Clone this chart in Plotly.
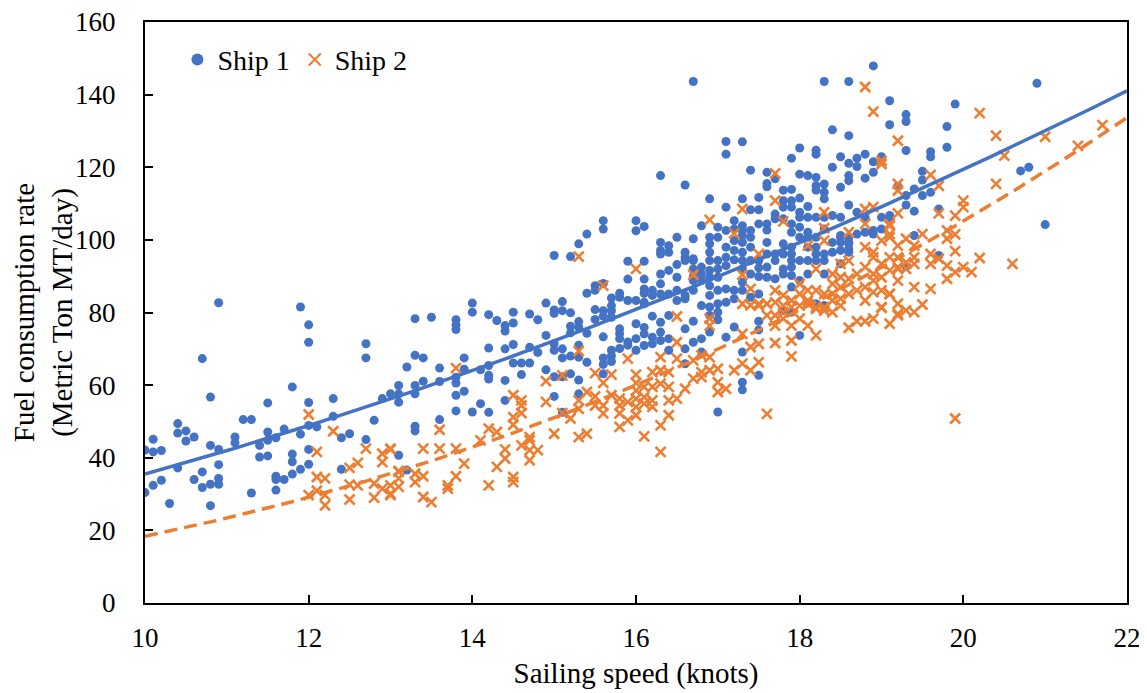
import numpy as np
import plotly.graph_objects as go

# ---------------- data ----------------
ship1_points = [
    (10.0, 42.1), (10.1, 45.1), (10.1, 41.6), (10.2, 42.0), (10.0, 30.4), (10.1, 32.4), (10.2, 33.8), (10.3, 27.4),
    (10.4, 49.4), (10.4, 46.8), (10.4, 37.2), (10.5, 47.4), (10.5, 44.6), (10.6, 45.7), (10.6, 34.0), (10.7, 67.3),
    (10.7, 36.1), (10.7, 31.8), (10.8, 56.7), (10.8, 43.4), (10.8, 32.7), (10.8, 26.8), (10.9, 82.7), (10.9, 42.3),
    (10.9, 38.1), (10.9, 34.3), (10.9, 32.7), (11.1, 45.7), (11.1, 44.1), (11.2, 50.5), (11.3, 50.5), (11.3, 30.3),
    (11.4, 43.4), (11.4, 40.2), (11.5, 55.1), (11.5, 47.1), (11.5, 44.8), (11.5, 40.5), (11.6, 45.5), (11.6, 34.9),
    (11.6, 34.0), (11.6, 31.1), (11.7, 34.0), (11.7, 47.9), (11.8, 59.5), (11.8, 41.0), (11.8, 38.9), (11.8, 35.5),
    (11.9, 81.5), (11.9, 46.5), (11.9, 36.8), (12.0, 76.6), (12.0, 71.8), (12.0, 55.2), (12.0, 48.9), (12.0, 42.3),
    (12.0, 38.2), (12.1, 48.5), (12.3, 56.3), (12.3, 51.4), (12.4, 45.5), (12.4, 36.8), (12.5, 46.6), (12.7, 71.4),
    (12.7, 67.5), (12.7, 45.0), (12.8, 50.3), (12.9, 56.3),
    (13.0, 57.6), (13.1, 59.9), (13.1, 57.6), (13.1, 55.3), (13.1, 40.7), (13.2, 65.0), (13.2, 36.6), (13.3, 78.3),
    (13.3, 68.2), (13.3, 59.9), (13.3, 57.6), (13.3, 48.7), (13.3, 47.4), (13.4, 67.5), (13.4, 61.1), (13.5, 78.7),
    (13.6, 64.7), (13.6, 61.0), (13.6, 50.5), (13.8, 78.0), (13.8, 76.6), (13.8, 75.3), (13.8, 62.2), (13.8, 60.6),
    (13.8, 57.2), (13.8, 52.9), (13.9, 67.5), (13.9, 64.4), (13.9, 58.3), (14.0, 82.6), (14.0, 80.1), (14.0, 52.6),
    (14.1, 64.2), (14.1, 54.9), (14.2, 79.4), (14.2, 70.2), (14.2, 65.4), (14.2, 62.7), (14.2, 61.7), (14.2, 52.5),
    (14.3, 77.8), (14.4, 76.4), (14.4, 74.9), (14.4, 70.0), (14.4, 61.3), (14.4, 55.8), (14.5, 80.1), (14.5, 77.1),
    (14.5, 71.2), (14.5, 66.1), (14.6, 66.1), (14.6, 62.9), (14.7, 79.6), (14.7, 70.4), (14.7, 66.1), (14.8, 78.0),
    (14.8, 69.0), (14.9, 82.6), (14.9, 73.7), (14.9, 64.2), (15.0, 95.7), (15.0, 80.7), (15.0, 79.8), (15.0, 71.4),
    (15.0, 69.6), (15.0, 62.3), (15.0, 56.9), (15.1, 83.0), (15.1, 80.5), (15.1, 70.0), (15.1, 67.5), (15.1, 62.3),
    (15.1, 52.5), (15.2, 95.4), (15.2, 79.9), (15.2, 76.2), (15.2, 74.4), (15.2, 68.0), (15.2, 63.1), (15.3, 98.9),
    (15.3, 77.5), (15.3, 75.9), (15.3, 71.0), (15.3, 67.7), (15.3, 61.4), (15.3, 57.6), (15.4, 101.6), (15.4, 85.3),
    (15.4, 74.3), (15.4, 66.3), (15.5, 87.4), (15.5, 86.1), (15.5, 80.8), (15.5, 78.1), (15.6, 105.3), (15.6, 103.0),
    (15.6, 88.0), (15.6, 80.5), (15.6, 79.0), (15.6, 73.3), (15.6, 67.5), (15.6, 65.7), (15.6, 63.1), (15.7, 84.0),
    (15.7, 81.9), (15.7, 80.5), (15.7, 78.7), (15.7, 69.6), (15.7, 68.1), (15.7, 66.5), (15.8, 85.3), (15.8, 84.2),
    (15.8, 75.5), (15.8, 74.2), (15.8, 72.8), (15.8, 70.1), (15.9, 94.1), (15.9, 89.2), (15.9, 83.3), (15.9, 71.9),
    (15.9, 71.0), (16.0, 105.3), (16.0, 102.5), (16.0, 83.3), (16.0, 76.9), (16.0, 72.8), (16.0, 69.6), (16.1, 94.1),
    (16.1, 89.2), (16.1, 86.5), (16.1, 85.3), (16.1, 82.8), (16.1, 75.9), (16.1, 74.1), (16.1, 70.9),
    (16.7, 143.6), (18.3, 143.6), (18.6, 143.6), (18.9, 147.9), (19.1, 138.3), (19.1, 131.7), (18.4, 130.3),
    (18.6, 128.7), (17.1, 127.1), (17.1, 123.6), (17.3, 127.0), (18.0, 125.3), (18.2, 124.7), (18.2, 123.6),
    (17.9, 122.5), (18.5, 122.9), (18.6, 121.1), (18.7, 122.5), (18.8, 123.6), (18.9, 121.5), (19.0, 122.9),
    (18.4, 120.0), (18.7, 120.2), (16.3, 117.7), (16.6, 115.1), (17.4, 119.2), (17.6, 118.6), (17.6, 115.5),
    (17.6, 114.6), (17.7, 116.8), (18.0, 118.1), (18.1, 117.7), (18.2, 117.2), (18.2, 114.9), (18.2, 113.7),
    (18.3, 115.4), (18.3, 113.1), (18.3, 111.3), (18.5, 114.5), (18.6, 117.7), (18.6, 116.3), (18.8, 117.0),
    (18.9, 118.6),
    (16.1, 103.7), (16.9, 111.3), (17.1, 109.0), (17.3, 111.3), (17.5, 111.7), (17.8, 113.7), (17.9, 113.9),
    (17.8, 110.8), (17.8, 109.0), (17.9, 110.8), (17.9, 109.0), (18.0, 111.5), (17.4, 108.3), (17.5, 108.3),
    (17.7, 107.1), (18.0, 107.6), (18.0, 106.2), (18.1, 109.2), (18.1, 106.2), (18.2, 106.2), (18.3, 106.2),
    (18.4, 106.7), (18.5, 106.2), (18.6, 109.6), (18.7, 107.6), (18.8, 106.2), (19.0, 106.2), (19.1, 106.7),
    (16.8, 103.9), (17.0, 103.5), (17.1, 102.6), (17.2, 105.3), (17.2, 103.0), (17.3, 103.9), (17.3, 101.2),
    (17.4, 102.6), (17.4, 100.7), (17.5, 104.4), (17.6, 104.4), (17.6, 102.7), (17.7, 105.8), (17.8, 105.8),
    (17.9, 104.4), (17.9, 102.1), (18.0, 103.5), (18.0, 100.7), (18.1, 102.1), (18.2, 100.7), (18.3, 103.0),
    (18.5, 101.2), (18.5, 99.3), (18.6, 99.3), (18.6, 97.5), (18.7, 101.6), (18.8, 102.1), (18.9, 102.6),
    (19.0, 103.0),
    (16.3, 99.3), (16.3, 97.1), (16.3, 96.1), (16.4, 98.4), (16.4, 96.6), (16.5, 100.7), (16.5, 93.2), (16.6, 96.6),
    (16.6, 95.2), (16.7, 100.3), (16.7, 94.3), (16.7, 92.0), (16.7, 89.9), (16.8, 92.5), (16.8, 90.6), (16.9, 100.7),
    (16.9, 98.9), (16.9, 96.6), (16.9, 94.3), (16.9, 91.6), (16.9, 89.7), (16.9, 87.4), (17.0, 100.7), (17.0, 94.3),
    (17.0, 92.0), (17.0, 89.7), (17.0, 86.1), (17.1, 98.0), (17.1, 95.2), (17.1, 92.9), (17.2, 99.8), (17.2, 97.1),
    (17.2, 94.5), (17.2, 86.1), (17.2, 83.8), (17.3, 102.6), (17.3, 99.3), (17.3, 96.6), (17.3, 94.3), (17.3, 92.0),
    (17.3, 88.3), (17.3, 86.1), (17.4, 98.0), (17.4, 94.3), (17.4, 90.6), (17.4, 84.2), (17.5, 94.3), (17.5, 92.3),
    (17.5, 89.9), (17.5, 85.1), (17.6, 99.3), (17.6, 96.1), (17.6, 92.5), (17.6, 89.7), (17.7, 96.1), (17.7, 94.3),
    (17.7, 89.3), (17.8, 98.9), (17.8, 96.1), (17.8, 92.0), (17.8, 90.6), (17.9, 98.0), (17.9, 96.1), (17.9, 94.3),
    (17.9, 92.5), (17.9, 90.2), (17.9, 87.0), (18.0, 94.3), (18.0, 88.8), (18.1, 100.7), (18.1, 98.0), (18.1, 94.3),
    (18.1, 90.6), (18.2, 98.0), (18.2, 96.1), (18.2, 94.3), (18.3, 96.1), (18.3, 94.3), (18.3, 90.6), (18.4, 99.3),
    (18.4, 96.6), (18.5, 100.7), (18.5, 97.1), (18.5, 93.4), (18.6, 100.7), (18.6, 98.9), (18.6, 96.6), (18.9, 101.6),
    (19.1, 105.8),
    (16.1, 82.4), (16.2, 86.1), (16.2, 84.7), (16.3, 90.6), (16.3, 87.9), (16.3, 85.1), (16.4, 91.6), (16.4, 85.1),
    (16.4, 79.2), (16.5, 89.7), (16.5, 86.1), (16.5, 83.3), (16.6, 94.3), (16.6, 84.7), (16.6, 83.8), (16.7, 94.8),
    (16.7, 88.8), (16.7, 86.1), (16.8, 88.8), (16.9, 84.7), (16.9, 81.5), (17.1, 86.5), (17.1, 82.8),
    (16.2, 79.0), (16.2, 73.2), (16.2, 71.4), (16.3, 77.3), (16.3, 74.6), (16.3, 72.3), (16.4, 72.8), (16.4, 69.6),
    (16.6, 75.5), (16.6, 70.0), (16.6, 65.9), (16.7, 77.6), (16.7, 71.8), (16.8, 81.9), (16.8, 72.8), (16.8, 69.1),
    (16.9, 79.2), (16.9, 74.6), (17.0, 82.4), (17.0, 80.1), (17.0, 78.0), (17.1, 73.2), (17.2, 76.0), (17.3, 69.1),
    (17.3, 60.8), (17.3, 58.7), (17.5, 77.6), (17.5, 75.2), (17.5, 62.7), (17.0, 52.6), (18.0, 73.7), (17.8, 80.5),
    (17.9, 80.1), (18.2, 82.4), (18.3, 81.9),
    (20.9, 143.1), (19.9, 137.4), (19.3, 134.5), (19.3, 132.6), (19.8, 131.2), (19.8, 125.5), (19.3, 124.6),
    (19.6, 124.3), (19.6, 122.9), (20.7, 119.0), (20.8, 120.0), (19.5, 118.9), (19.5, 116.5), (19.4, 114.0),
    (19.3, 112.2), (19.3, 109.6), (19.5, 112.2), (19.6, 113.1), (19.2, 114.7), (19.7, 108.5), (19.4, 107.9),
    (21.0, 104.2), (19.4, 101.2), (19.7, 95.7), (19.3, 92.7),
]

ship2_points = [
    (12.0, 51.9), (12.1, 41.6), (12.3, 47.3), (12.1, 34.7), (12.2, 34.3), (12.0, 29.7), (12.1, 30.9), (12.2, 29.7),
    (12.2, 26.9), (12.5, 37.2), (12.5, 32.6), (12.5, 28.5), (12.6, 38.6), (12.6, 32.4), (12.7, 42.5), (12.8, 32.9),
    (12.8, 29.0), (12.9, 41.1), (12.9, 38.8), (12.9, 31.5), (13.0, 42.5), (13.0, 30.1), (13.1, 36.4),
    (15.3, 95.4), (16.0, 92.0), (15.6, 87.4), (13.8, 64.7), (15.3, 69.4), (15.9, 67.3), (15.1, 62.7), (14.9, 61.1),
    (15.5, 63.3), (15.6, 60.6), (15.7, 62.9), (16.0, 62.9), (16.0, 60.6), (14.5, 57.2), (14.6, 55.8), (14.6, 54.4),
    (14.6, 52.3), (14.9, 55.4), (15.1, 52.3), (15.2, 50.8), (15.3, 55.8), (15.3, 53.5), (15.4, 58.1), (15.5, 56.9),
    (15.5, 54.4), (15.6, 54.4), (15.6, 52.2), (15.7, 57.2), (15.8, 56.3), (15.8, 54.4), (15.8, 52.2), (15.9, 55.4),
    (15.9, 50.3), (16.0, 58.5), (16.0, 56.3), (16.0, 54.0), (16.0, 51.7), (16.1, 59.5), (16.1, 56.7), (16.1, 54.9),
    (14.5, 51.2), (14.5, 49.1), (14.2, 48.0), (14.3, 47.1), (13.6, 47.7), (13.4, 42.5), (13.6, 42.5), (13.8, 42.5),
    (14.1, 44.8), (14.4, 42.3), (14.6, 43.4), (14.7, 42.1), (14.8, 42.1), (14.7, 39.3), (14.7, 45.7), (14.7, 44.8),
    (15.0, 46.6), (15.3, 45.7), (15.4, 46.6), (15.8, 48.5), (16.1, 45.9), (13.0, 42.3), (13.1, 36.1), (13.1, 34.3),
    (13.0, 32.4), (13.0, 29.7), (13.1, 32.0), (13.3, 35.6), (13.3, 33.3), (13.4, 34.9), (13.4, 29.2), (13.5, 27.8),
    (13.7, 32.4), (13.7, 31.5), (13.8, 34.9), (13.9, 38.4), (14.2, 32.4), (14.5, 34.7), (14.5, 33.3), (14.3, 37.5),
    (14.4, 39.8),
    (18.8, 142.1), (18.9, 135.3), (19.2, 127.3), (19.0, 121.8), (19.0, 120.9), (19.2, 115.4), (19.2, 113.6),
    (17.7, 118.3), (17.7, 110.8), (17.3, 108.5), (18.3, 107.6), (16.9, 105.5), (17.8, 105.1), (17.2, 101.8),
    (18.3, 103.2), (18.3, 99.8), (18.6, 102.1), (18.8, 108.5), (18.9, 109.0), (18.8, 104.4), (19.1, 104.4),
    (19.1, 101.6), (19.0, 99.8), (18.1, 98.4), (17.5, 96.1), (18.2, 92.0), (18.5, 93.4), (18.8, 98.0), (18.9, 96.6),
    (19.2, 98.4),
    (16.7, 90.4), (17.3, 90.4), (17.4, 86.5), (17.5, 82.4), (17.7, 86.1), (17.8, 84.7), (17.9, 83.3), (18.0, 87.9),
    (18.0, 85.1), (18.1, 86.1), (18.1, 83.3), (18.2, 86.1), (18.2, 81.0), (18.3, 85.1), (18.3, 81.5), (18.4, 90.6),
    (18.4, 87.9), (18.4, 85.1), (18.4, 83.3), (18.5, 89.7), (18.5, 87.0), (18.5, 83.8), (18.6, 94.3), (18.6, 89.3),
    (18.6, 85.1), (18.7, 90.6), (18.7, 86.1), (18.8, 92.5), (18.8, 87.0), (18.8, 83.3), (18.9, 95.2), (18.9, 90.6),
    (18.9, 88.8), (18.9, 85.6), (19.0, 93.4), (19.0, 89.7), (19.0, 86.1), (19.0, 81.5), (19.1, 95.2), (19.1, 91.6),
    (19.1, 85.1), (19.2, 92.5), (19.2, 88.8), (16.5, 78.9), (16.9, 78.3), (16.9, 76.4), (17.3, 82.4), (17.4, 82.0),
    (18.9, 78.3), (19.1, 76.9),
    (17.5, 81.9), (17.6, 82.4), (17.7, 82.8), (17.8, 81.9), (17.8, 80.1), (17.9, 81.5), (18.0, 81.9), (18.1, 82.4),
    (18.2, 81.5), (18.3, 80.5), (18.4, 80.1), (18.5, 81.9), (17.7, 79.2), (17.8, 78.3), (17.9, 76.4), (18.0, 78.3),
    (18.1, 76.4), (18.2, 73.7), (17.6, 79.2), (17.7, 76.4), (19.0, 81.3), (18.6, 75.8), (18.7, 77.6), (18.8, 77.6),
    (19.2, 79.6), (16.5, 71.8), (17.3, 74.1), (17.4, 70.5), (17.5, 71.4), (17.7, 71.6), (17.9, 72.3), (17.9, 67.9),
    (17.5, 66.3), (17.4, 64.1), (17.3, 65.9), (17.2, 64.1), (16.3, 67.7), (16.5, 67.3), (16.7, 66.8), (16.8, 68.2),
    (16.9, 67.7), (16.9, 64.1), (17.0, 64.5), (17.0, 60.8), (17.0, 58.1), (17.1, 59.0), (16.8, 63.6), (16.8, 62.2),
    (16.7, 61.8), (16.6, 59.0), (16.5, 56.3), (16.4, 63.6), (16.4, 59.5), (16.4, 55.8), (16.4, 51.7), (16.3, 64.1),
    (16.3, 60.4), (16.3, 48.9), (16.3, 41.6), (16.2, 63.6), (16.2, 59.5), (16.2, 55.8), (16.2, 54.0), (17.6, 52.1),
    (20.2, 134.9), (20.4, 128.7), (21.0, 128.4), (21.7, 131.6), (21.4, 125.9), (20.5, 123.2), (19.6, 117.9),
    (19.7, 114.9), (20.4, 115.4), (20.0, 110.8), (20.0, 109.0), (19.7, 107.3), (19.9, 106.7), (19.2, 107.3),
    (19.1, 103.9), (19.1, 100.7), (19.5, 101.6), (19.8, 102.6), (19.8, 100.3), (19.9, 101.5), (19.3, 100.3),
    (19.4, 98.4), (19.9, 96.9), (19.2, 95.2), (19.4, 95.2), (19.4, 93.4), (19.3, 93.8), (19.3, 92.0), (19.6, 96.1),
    (19.6, 93.4), (19.7, 94.8), (19.2, 92.0), (20.2, 95.0), (20.6, 93.4), (19.8, 92.9), (19.8, 89.3), (19.9, 91.1),
    (20.0, 92.5), (20.1, 91.1), (19.4, 87.0), (19.6, 86.5), (19.1, 85.1), (19.2, 82.4), (19.2, 79.2), (19.3, 80.6),
    (19.4, 80.1), (19.5, 82.2), (19.9, 50.8),
]

# power trendlines y = a * x^b
trend_ship1 = {"a": 0.633, "b": 1.749}
trend_ship2 = {"a": 0.0562, "b": 2.515}

series_names = ["Ship 1", "Ship 2"]
x_ticks = [10, 12, 14, 16, 18, 20, 22]
y_ticks = [0, 20, 40, 60, 80, 100, 120, 140, 160]

ship1_speed = [p[0] for p in ship1_points]
ship1_fuel = [p[1] for p in ship1_points]
ship2_speed = [p[0] for p in ship2_points]
ship2_fuel = [p[1] for p in ship2_points]

BLUE = "#4472C4"
ORANGE = "#ED7D31"
FONT = "Liberation Serif"

fig = go.Figure()

fig.add_trace(go.Scatter(
    x=ship1_speed, y=ship1_fuel, mode="markers", name=series_names[0],
    marker=dict(symbol="circle", size=9, color=BLUE, line=dict(width=0)),
))
fig.add_trace(go.Scatter(
    x=ship2_speed, y=ship2_fuel, mode="markers", name=series_names[1],
    marker=dict(symbol="x-thin", size=10, color=ORANGE, line=dict(width=2.6, color=ORANGE)),
))

xs = np.linspace(x_ticks[0], x_ticks[-1], 200)
fig.add_trace(go.Scatter(
    x=xs, y=trend_ship1["a"] * xs ** trend_ship1["b"], mode="lines", showlegend=False,
    line=dict(color=BLUE, width=3.5), hoverinfo="skip",
))
fig.add_trace(go.Scatter(
    x=xs, y=trend_ship2["a"] * xs ** trend_ship2["b"], mode="lines", showlegend=False,
    line=dict(color=ORANGE, width=3.5, dash="13px,7px"), hoverinfo="skip",
))

# the page body has an 8px margin, so the figure is sized/offset to compensate
fig.update_layout(
    width=1139, height=685,
    margin=dict(l=137, r=20, t=14, b=90, autoexpand=False),
    paper_bgcolor="white", plot_bgcolor="white",
    font=dict(family=FONT, size=27, color="black"),
    legend=dict(orientation="h", x=0.033, y=0.978, xanchor="left", yanchor="top",
                font=dict(family=FONT, size=28, color="black"), bgcolor="rgba(0,0,0,0)",
                itemsizing="constant", itemwidth=30, tracegroupgap=0),
    showlegend=True,
)
fig.update_xaxes(
    range=[x_ticks[0], x_ticks[-1]], tickvals=x_ticks, ticks="inside", ticklen=8, tickwidth=1.5,
    tickcolor="black", showline=True, mirror=True, linecolor="black", linewidth=2, showgrid=False,
    zeroline=False, automargin=False, ticklabeloverflow="allow",
    tickfont=dict(family=FONT, size=27), ticklabelstandoff=10,
    title=dict(text="Sailing speed (knots)", font=dict(family=FONT, size=29), standoff=10),
)
fig.update_yaxes(
    range=[y_ticks[0], y_ticks[-1]], tickvals=y_ticks, ticks="inside", ticklen=8, tickwidth=1.5,
    tickcolor="black", showline=True, mirror=True, linecolor="black", linewidth=2, showgrid=False,
    zeroline=False, automargin=False, ticklabeloverflow="allow",
    tickfont=dict(family=FONT, size=27), ticklabelstandoff=22,
    title=dict(text="Fuel consumption rate<br>(Metric Ton MT/day)", font=dict(family=FONT, size=29), standoff=0),
)

fig.write_html("out.html")
